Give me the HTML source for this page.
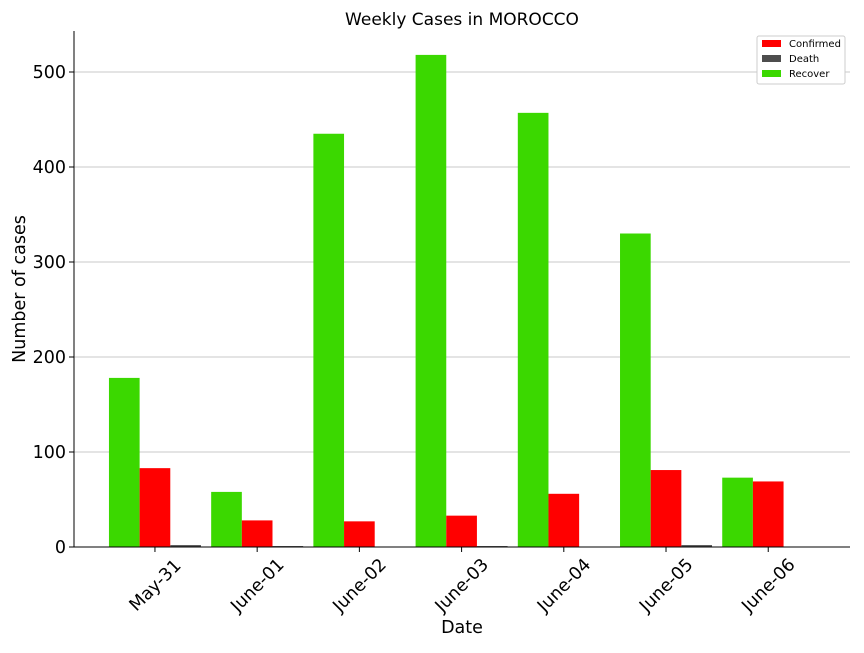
<!DOCTYPE html>
<html><head><meta charset="utf-8"><style>
body{margin:0;background:#fff;font-family:"Liberation Sans","DejaVu Sans",sans-serif}
</style></head><body>
<svg id="chart" width="864" height="648" xmlns="http://www.w3.org/2000/svg" font-family="DejaVu Sans, Liberation Sans, sans-serif"></svg>
<script>
const categories=["May-31","June-01","June-02","June-03","June-04","June-05","June-06"];
const recover=[178,58,435,518,457,330,73];
const confirmed=[83,28,27,33,56,81,69];
const death=[2,1,0,1,0,2,0];
const yTicks=[0,100,200,300,400,500];
const L=74,R=850,T=31,B=547;
const x=v=>L+(v+0.342)/(7.25+0.342)*(R-L);
const y=v=>B-v*0.95;
const svg=document.getElementById('chart');
const NS='http://www.w3.org/2000/svg';
function mk(t,a,p){const e=document.createElementNS(NS,t);for(const k in a)e.setAttribute(k,a[k]);(p||svg).appendChild(e);return e;}
yTicks.forEach(v=>{
 const g=mk('line',{x1:L,x2:R,y1:y(v),y2:y(v),stroke:'#c8c8c8','stroke-width':1});
 
 
 mk('line',{x1:L-5,x2:L,y1:y(v),y2:y(v),stroke:'#000'});
 const t=mk('text',{x:L-8,y:y(v)+6,'text-anchor':'end','font-size':17.5});t.textContent=v;
 
 
});
const w=0.3;
const series=[[recover,'#3bd800',0,'recover'],[confirmed,'#ff0000',w,'confirmed'],[death,'#4d4d4d',2*w,'death']];
categories.forEach((c,i)=>{
 series.forEach(([d,col,off,nm])=>{
  const x0=x(i+off),x1=x(i+off+w);
  const r=mk('rect',{x:x0,y:y(d[i]),width:x1-x0,height:B-y(d[i]),fill:col});
  
  
 });
 const cx=x(i+w+w/2);
 mk('line',{x1:cx,x2:cx,y1:B,y2:B+5,stroke:'#000'});
 const cy=B+38;
 const t=mk('text',{x:cx,y:cy+6,'text-anchor':'middle','font-size':17.5,transform:`rotate(-45 ${cx} ${cy})`});
 t.textContent=c;
 
 
});
mk('line',{x1:L,x2:L,y1:T,y2:B,stroke:'#000'});
mk('line',{x1:L,x2:R,y1:B,y2:B,stroke:'#000'});
let t=mk('text',{x:462,y:25,'text-anchor':'middle','font-size':17});t.textContent='Weekly Cases in MOROCCO';

t=mk('text',{x:462,y:633,'text-anchor':'middle','font-size':17.5});t.textContent='Date';

t=mk('text',{x:25,y:289,'text-anchor':'middle','font-size':17.5,transform:'rotate(-90 25 289)'});t.textContent='Number of cases';

const lg=mk('g',{});


mk('rect',{x:757,y:36,width:88,height:48,fill:'#fff',stroke:'#ccc',rx:2},lg);
[['Confirmed','#ff0000'],['Death','#4d4d4d'],['Recover','#3bd800']].forEach(([n,c],k)=>{
 const yy=44+k*15;
 mk('rect',{x:762,y:yy-4,width:19,height:7,fill:c},lg);
 const tt=mk('text',{x:789,y:yy+3,'font-size':10},lg);tt.textContent=n;
 
 
});
</script>
</body></html>
